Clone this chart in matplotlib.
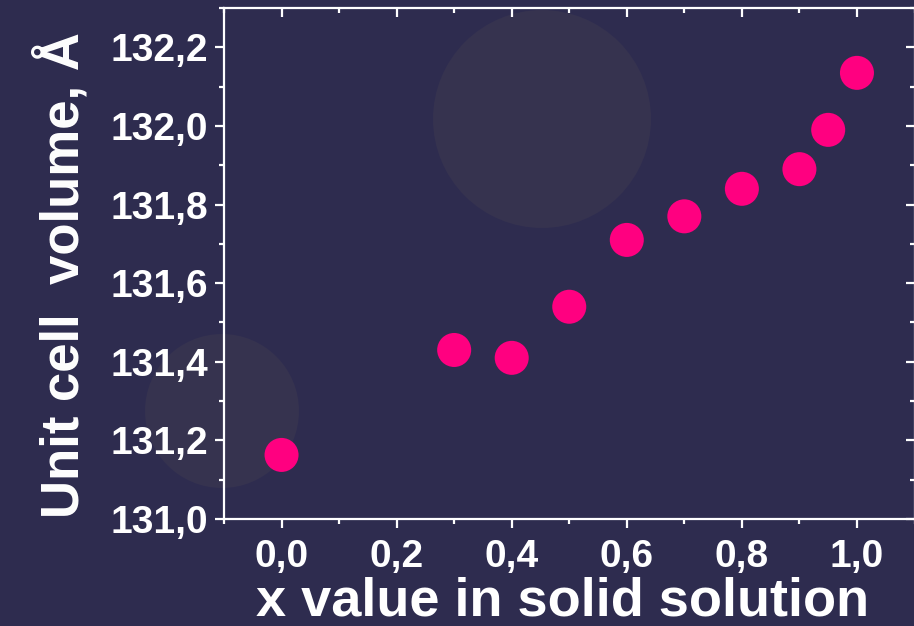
import matplotlib
matplotlib.use("Agg")
import matplotlib.pyplot as plt
from matplotlib.patches import Ellipse
from matplotlib.ticker import MultipleLocator, FuncFormatter

x_values = [0.0, 0.3, 0.4, 0.5, 0.6, 0.7, 0.8, 0.9, 0.95, 1.0]
cell_volume = [131.163, 131.43, 131.41, 131.54, 131.71, 131.77, 131.84, 131.89, 131.99, 132.135]

x_label = "x value in solid solution"
y_label = "Unit cell  volume, Å"

bg = "#2e2c4f"
circle_col = "#36334f"
marker_col = "#ff0080"
W, H = 914, 626

plt.rcParams['font.family'] = ['Liberation Sans', 'DejaVu Sans']
plt.rcParams['font.weight'] = 'bold'

fig = plt.figure(figsize=(W / 100, H / 100), dpi=100, facecolor=bg)

# decorative background discs (figure pixel coords)
for cx, cy, r in [(542, 119, 109), (222, 411, 77)]:
    fig.patches.append(Ellipse((cx / W, 1 - cy / H), 2 * r / W, 2 * r / H,
                               transform=fig.transFigure, facecolor=circle_col,
                               edgecolor='none', zorder=-10))

ax = fig.add_axes([224 / W, (H - 519) / H, (914.5 - 224) / W, (519 - 8) / H])
ax.set_zorder(5)
ax.set_facecolor('none')
ax.scatter(x_values, cell_volume, s=600, color=marker_col, edgecolors='none', zorder=3, clip_on=False)

ax.set_xlim(-0.1, 1.1)
ax.set_ylim(131.0, 132.3)
ax.xaxis.set_major_locator(MultipleLocator(0.2))
ax.xaxis.set_minor_locator(MultipleLocator(0.1))
ax.yaxis.set_major_locator(MultipleLocator(0.2))
ax.yaxis.set_minor_locator(MultipleLocator(0.1))
ax.xaxis.set_major_formatter(FuncFormatter(lambda v, p: f"{v:.1f}".replace('.', ',').replace('-0,0', '0,0')))
ax.yaxis.set_major_formatter(FuncFormatter(lambda v, p: f"{v:.1f}".replace('.', ',')))

for s in ax.spines.values():
    s.set_color('white')
    s.set_linewidth(1.6)

ax.tick_params(axis='both', which='both', colors='white', width=1.6, labelsize=28)
ax.tick_params(axis='both', which='major', length=6.5)
ax.tick_params(axis='both', which='minor', length=3.5)
ax.tick_params(axis='x', which='both', direction='out', top=False, pad=8)
ax.tick_params(axis='y', which='both', direction='out', right=False, pad=5)

# inward ticks on the top and right edges
axt = ax.secondary_xaxis('top')
axt.xaxis.set_major_locator(MultipleLocator(0.2))
axt.xaxis.set_minor_locator(MultipleLocator(0.1))
axt.tick_params(axis='x', which='both', direction='in', colors='white', width=1.6, labelsize=0, labeltop=False)
axt.tick_params(which='major', length=6.5)
axt.tick_params(which='minor', length=3.5)
axt.spines['top'].set_visible(False)
axr = ax.secondary_yaxis('right')
axr.yaxis.set_major_locator(MultipleLocator(0.2))
axr.yaxis.set_minor_locator(MultipleLocator(0.1))
axr.tick_params(axis='y', which='both', direction='in', colors='white', width=1.6, labelsize=0, labelright=False)
axr.tick_params(which='major', length=6.5)
axr.tick_params(which='minor', length=3.5)
axr.spines['right'].set_visible(False)

for lab in ax.get_xticklabels() + ax.get_yticklabels():
    lab.set_fontweight('bold')

fig.text(563 / W, 1 - 615 / H, x_label, color='white', fontsize=39, fontweight='bold',
         ha='center', va='baseline')
fig.text(62 / W, 1 - 275 / H, y_label, color='white', fontsize=38, fontweight='bold',
         ha='center', va='center', rotation=90)

fig.savefig("out.png", dpi=100, facecolor=bg)
